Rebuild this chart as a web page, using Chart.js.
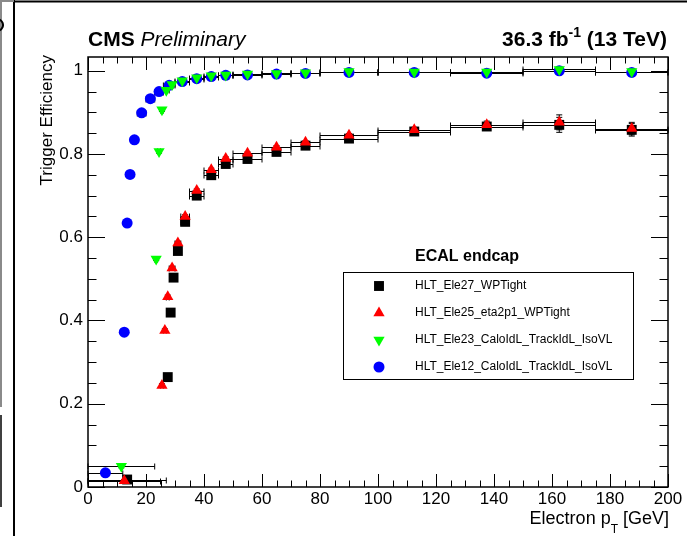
<!DOCTYPE html>
<html>
<head>
<meta charset="utf-8">
<script src="https://cdn.jsdelivr.net/npm/chart.js@4/dist/chart.umd.min.js"></script>
<style>
html, body { margin: 0; padding: 0; background: #fff; }
#wrap { width: 687px; height: 536px; }
</style>
</head>
<body>
<div id="wrap"><canvas id="chart" width="687" height="536"></canvas></div>
<script>
// tick labels
var xTicks = [0, 20, 40, 60, 80, 100, 120, 140, 160, 180, 200];
var yTicks = [0, 0.2, 0.4, 0.6, 0.8, 1];

// HLT_Ele27_WPTight (black squares)
var ele27Label = "HLT_Ele27_WPTight";
var ele27X    = [13.5, 27.5, 28.5, 29.5, 31, 33.5, 37.5, 42.5, 47.5, 55, 65, 75, 90, 112.5, 137.5, 162.5, 187.5];
var ele27XErr = [13.5, 0.5, 0.5, 0.5, 1, 1.5, 2.5, 2.5, 2.5, 5, 5, 5, 10, 12.5, 12.5, 12.5, 12.5];
var ele27Y    = [0.018, 0.264, 0.419, 0.503, 0.567, 0.637, 0.700, 0.749, 0.776, 0.788, 0.805, 0.820, 0.837, 0.854, 0.866, 0.870, 0.858];
var ele27YErr = [0.003, 0.004, 0.004, 0.004, 0.004, 0.004, 0.004, 0.004, 0.004, 0.003, 0.004, 0.004, 0.004, 0.006, 0.009, 0.018, 0.015];

// HLT_Ele25_eta2p1_WPTight (red triangles)
var ele25Label = "HLT_Ele25_eta2p1_WPTight";
var ele25X    = [12.5, 25.5, 26.5, 27.5, 29, 31, 33.5, 37.5, 42.5, 47.5, 55, 65, 75, 90, 112.5, 137.5, 162.5, 187.5];
var ele25XErr = [12.5, 0.5, 0.5, 0.5, 1, 1, 1.5, 2.5, 2.5, 2.5, 5, 5, 5, 10, 12.5, 12.5, 12.5, 12.5];
var ele25Y    = [0.015, 0.244, 0.376, 0.457, 0.526, 0.586, 0.650, 0.712, 0.762, 0.789, 0.802, 0.816, 0.828, 0.845, 0.858, 0.870, 0.876, 0.861];
var ele25YErr = [0.003, 0.004, 0.004, 0.004, 0.004, 0.004, 0.004, 0.004, 0.004, 0.004, 0.003, 0.004, 0.004, 0.004, 0.006, 0.009, 0.018, 0.015];

// HLT_Ele23_CaloIdL_TrackIdL_IsoVL (green down triangles)
var ele23Label = "HLT_Ele23_CaloIdL_TrackIdL_IsoVL";
var ele23X    = [11.5, 23.5, 24.5, 25.5, 27, 29, 32.5, 37.5, 42.5, 47.5, 55, 65, 75, 90, 112.5, 137.5, 162.5, 187.5];
var ele23XErr = [11.5, 0.5, 0.5, 0.5, 1, 1, 2.5, 2.5, 2.5, 2.5, 5, 5, 5, 10, 12.5, 12.5, 12.5, 12.5];
var ele23Y    = [0.050, 0.548, 0.806, 0.906, 0.953, 0.967, 0.976, 0.983, 0.988, 0.990, 0.992, 0.9935, 0.995, 0.998, 0.997, 0.997, 1.003, 0.998];
var ele23YErr = [0.004, 0.004, 0.004, 0.004, 0.003, 0.003, 0.002, 0.002, 0.002, 0.002, 0.002, 0.002, 0.002, 0.002, 0.003, 0.004, 0.006, 0.005];

// HLT_Ele12_CaloIdL_TrackIdL_IsoVL (blue circles)
var ele12Label = "HLT_Ele12_CaloIdL_TrackIdL_IsoVL";
var ele12X    = [6, 12.5, 13.5, 14.5, 16, 18.5, 21.5, 24.5, 28, 32.5, 37.5, 42.5, 47.5, 55, 65, 75, 90, 112.5, 137.5, 162.5, 187.5];
var ele12XErr = [6, 0.5, 0.5, 0.5, 1, 1.5, 1.5, 1.5, 2, 2.5, 2.5, 2.5, 2.5, 5, 5, 5, 10, 12.5, 12.5, 12.5, 12.5];
var ele12Y    = [0.034, 0.372, 0.634, 0.751, 0.834, 0.899, 0.933, 0.950, 0.965, 0.974, 0.981, 0.986, 0.989, 0.990, 0.992, 0.9935, 0.996, 0.996, 0.994, 1.000, 0.996];
var ele12YErr = [0.004, 0.004, 0.004, 0.004, 0.004, 0.004, 0.003, 0.003, 0.002, 0.002, 0.002, 0.002, 0.002, 0.002, 0.002, 0.002, 0.002, 0.003, 0.004, 0.006, 0.005];

var FONT = "'Liberation Sans', Arial, Helvetica, sans-serif";

//helper to turn the arrays into points
function toPoints( xs, ys, xe, ye ){
	var pts = [];
	for( var i = 0; i < xs.length; i++ ){
		pts.push( { x: xs[i], y: ys[i], xe: xe[i], ye: ye[i] } );
	}
	return pts;
}

//series in legend order
var series = [
	{ label: ele27Label, color: "#000000", style: "rect",     rot: 0,   radius: 7,   order: 4, pts: toPoints( ele27X, ele27Y, ele27XErr, ele27YErr ) },
	{ label: ele25Label, color: "#ff0000", style: "triangle", rot: 0,   radius: 6.5, order: 2, pts: toPoints( ele25X, ele25Y, ele25XErr, ele25YErr ) },
	{ label: ele23Label, color: "#00ff00", style: "triangle", rot: 180, radius: 6.5, order: 1, pts: toPoints( ele23X, ele23Y, ele23XErr, ele23YErr ) },
	{ label: ele12Label, color: "#0000ff", style: "circle",   rot: 0,   radius: 5.5, order: 3, pts: toPoints( ele12X, ele12Y, ele12XErr, ele12YErr ) }
];

//draw one marker, same shapes as chart.js points
function marker( ctx, s, x, y ){
	ctx.save();
	ctx.fillStyle = s.color;
	Chart.helpers.drawPoint( ctx, { pointStyle: s.style, rotation: s.rot, radius: s.radius, borderWidth: 0 }, x, y );
	ctx.restore();
}

//error bars, under the markers
var errorBars = {
	id: "errorBars",
	beforeDatasetsDraw: function( chart ){
		var ctx = chart.ctx, xs = chart.scales.x, ys = chart.scales.y;
		ctx.save();
		ctx.strokeStyle = "#000";
		ctx.lineWidth = 1;
		series.forEach( function( s ){
			s.pts.forEach( function( p ){
				var px = xs.getPixelForValue( p.x ), py = Math.round( ys.getPixelForValue( p.y ) ) + 0.5;
				var x1 = xs.getPixelForValue( p.x - p.xe ), x2 = xs.getPixelForValue( p.x + p.xe );
				var y1 = ys.getPixelForValue( p.y - p.ye ), y2 = ys.getPixelForValue( p.y + p.ye );
				ctx.beginPath();
				ctx.moveTo( x1, py ); ctx.lineTo( x2, py );
				ctx.moveTo( x1, py - 3 ); ctx.lineTo( x1, py + 3 );
				ctx.moveTo( x2, py - 3 ); ctx.lineTo( x2, py + 3 );
				ctx.moveTo( px, y1 ); ctx.lineTo( px, y2 );
				ctx.moveTo( px - 3, y1 ); ctx.lineTo( px + 3, y1 );
				ctx.moveTo( px - 3, y2 ); ctx.lineTo( px + 3, y2 );
				ctx.stroke();
			});
		});
		ctx.restore();
	}
};

//frame, inward ticks, titles, legend and page edges
var rootStyle = {
	id: "rootStyle",
	afterDraw: function( chart ){
		var ctx = chart.ctx, ca = chart.chartArea, xs = chart.scales.x, ys = chart.scales.y;
		ctx.save();

		//bits of the neighbouring page on the left
		ctx.strokeStyle = "#000"; ctx.lineWidth = 2;
		ctx.beginPath(); ctx.moveTo( 14, 0 ); ctx.lineTo( 14, 536 ); ctx.stroke();
		ctx.beginPath(); ctx.moveTo( 14, 1.5 ); ctx.lineTo( 687, 1.5 ); ctx.stroke();
		ctx.strokeStyle = "#8a8a8a";
		ctx.beginPath(); ctx.moveTo( 0, 1 ); ctx.lineTo( 14, 1 ); ctx.moveTo( 1, 0 ); ctx.lineTo( 1, 407 ); ctx.stroke();
		ctx.strokeStyle = "#000"; ctx.lineWidth = 1.5;
		ctx.beginPath(); ctx.moveTo( 1, 415 ); ctx.lineTo( 1, 507 ); ctx.stroke();
		ctx.lineWidth = 2;
		ctx.beginPath(); ctx.arc( -3, 25, 6, -1.2, 1.2 ); ctx.stroke();

		//frame
		ctx.strokeStyle = "#000";
		ctx.lineWidth = 1.5;
		ctx.strokeRect( ca.left, ca.top, ca.right - ca.left, ca.bottom - ca.top );

		//x ticks, bottom and top
		ctx.lineWidth = 1;
		ctx.beginPath();
		for( var v = 0; v <= 200; v += 5 ){
			var px = Math.round( xs.getPixelForValue( v ) ) + 0.5;
			var len = ( v % 20 == 0 ) ? 13 : 6.5;
			ctx.moveTo( px, ca.bottom ); ctx.lineTo( px, ca.bottom - len );
			ctx.moveTo( px, ca.top ); ctx.lineTo( px, ca.top + len );
		}
		//y ticks, left and right
		for( var k = 0; k * 0.05 <= ys.max; k++ ){
			var py = Math.round( ys.getPixelForValue( k * 0.05 ) ) + 0.5;
			var ylen = ( k % 4 == 0 ) ? 17 : 8.5;
			ctx.moveTo( ca.left, py ); ctx.lineTo( ca.left + ylen, py );
			ctx.moveTo( ca.right, py ); ctx.lineTo( ca.right - ylen, py );
		}
		ctx.stroke();

		ctx.fillStyle = "#000";
		ctx.textBaseline = "alphabetic";

		//header
		ctx.textAlign = "left";
		ctx.font = "bold 21px " + FONT;
		ctx.fillText( "CMS", 88, 46 );
		var w = ctx.measureText( "CMS " ).width;
		ctx.font = "italic 21px " + FONT;
		ctx.fillText( "Preliminary", 88 + w, 46 );

		ctx.font = "bold 21px " + FONT;
		var a = "36.3 fb", b = "-1", c = " (13 TeV)";
		var wa = ctx.measureText( a ).width, wc = ctx.measureText( c ).width;
		ctx.font = "bold 14px " + FONT;
		var wb = ctx.measureText( b ).width;
		var x0 = 667 - wa - wb - wc;
		ctx.font = "bold 21px " + FONT;
		ctx.fillText( a, x0, 46 );
		ctx.fillText( c, x0 + wa + wb, 46 );
		ctx.font = "bold 14px " + FONT;
		ctx.fillText( b, x0 + wa, 37 );

		//x title with subscript
		ctx.font = "18px " + FONT;
		var t1 = "Electron p", t2 = "T", t3 = " [GeV]";
		var w1 = ctx.measureText( t1 ).width, w3 = ctx.measureText( t3 ).width;
		ctx.font = "12px " + FONT;
		var w2 = ctx.measureText( t2 ).width;
		var tx = 669 - w1 - w2 - w3;
		ctx.font = "18px " + FONT;
		ctx.fillText( t1, tx, 524 );
		ctx.fillText( t3, tx + w1 + w2, 524 );
		ctx.font = "12px " + FONT;
		ctx.fillText( t2, tx + w1, 533 );

		//y title, rotated and right aligned at the top
		ctx.save();
		ctx.translate( 52, 55 );
		ctx.rotate( -Math.PI / 2 );
		ctx.textAlign = "right";
		ctx.font = "17px " + FONT;
		ctx.fillText( "Trigger Efficiency", 0, 0 );
		ctx.restore();

		//legend
		ctx.textAlign = "left";
		ctx.font = "bold 16px " + FONT;
		ctx.fillText( "ECAL endcap", 415, 261 );
		ctx.lineWidth = 1;
		ctx.strokeRect( 343.5, 272.5, 290, 107 );
		ctx.font = "12px " + FONT;
		ctx.textBaseline = "middle";
		series.forEach( function( s, i ){
			var ly = 286 + i * 27;
			marker( ctx, s, 379, ly );
			ctx.fillStyle = "#000";
			ctx.fillText( s.label, 415, ly );
		});

		ctx.restore();
	}
};

var ctx = document.getElementById( "chart" ).getContext( "2d" );
var chart = new Chart( ctx, {
	type: "scatter",
	data: {
		datasets: series.map( function( s ){
			return {
				label: s.label,
				data: s.pts,
				order: s.order,
				pointStyle: s.style,
				pointRotation: s.rot,
				pointRadius: s.radius,
				pointHoverRadius: s.radius,
				pointBorderWidth: 0,
				backgroundColor: s.color,
				borderColor: s.color,
				showLine: false
			};
		})
	},
	options: {
		responsive: false,
		devicePixelRatio: 1,
		animation: false,
		events: [],
		layout: { padding: { top: 57, right: 19, left: 0, bottom: 0 } },
		plugins: {
			legend: { display: false },
			tooltip: { enabled: false },
			title: { display: false }
		},
		scales: {
			x: {
				type: "linear",
				min: 0, max: 200,
				grid: { display: false, drawTicks: false },
				border: { display: false },
				afterFit: function( scale ){ scale.height = 49; },
				afterBuildTicks: function( scale ){ scale.ticks = xTicks.map( function( v ){ return { value: v }; } ); },
				ticks: { autoSkip: false, maxRotation: 0, padding: 2, color: "#000", font: { family: FONT, size: 17 } }
			},
			y: {
				type: "linear",
				min: 0, max: 1.033,
				grid: { display: false, drawTicks: false },
				border: { display: false },
				afterFit: function( scale ){ scale.width = 88; },
				afterBuildTicks: function( scale ){ scale.ticks = yTicks.map( function( v ){ return { value: v }; } ); },
				ticks: {
					padding: 5, color: "#000", font: { family: FONT, size: 17 },
					callback: function( value ){ return String( Math.round( value * 10 ) / 10 ); }
				}
			}
		}
	},
	plugins: [ errorBars, rootStyle ]
});
</script>
</body>
</html>
